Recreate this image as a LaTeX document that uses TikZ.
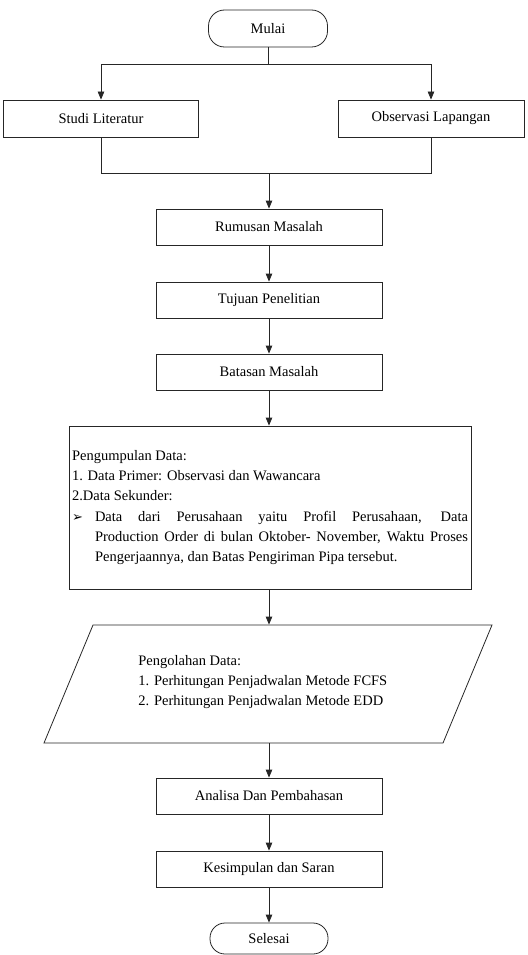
\documentclass[tikz,border=0pt]{standalone}
\usepackage{fontspec}
\setmainfont{Liberation Serif}
\newfontfamily\tnr{Liberation Serif}
\newfontfamily\dejavu{DejaVu Sans}
\usetikzlibrary{arrows.meta}
\begin{document}
\begin{tikzpicture}[x=1pt,y=-1pt,
  line width=0.8pt,
  every node/.style={font=\tnr\fontsize{14.5}{20.3}\selectfont},
  proc/.style={draw=black!85, rectangle, minimum width=226pt, minimum height=36pt, inner sep=0pt},
  term/.style={draw=black!85, rectangle, rounded corners=16pt, minimum width=119pt, minimum height=37pt, inner sep=0pt},
  arr/.style={draw=black!85, -{Triangle[length=8pt,width=6.5pt]}},
  ln/.style={draw=black!85},
]
\useasboundingbox (0,0) rectangle (527,955);

\node[term] (mulai) at (268,28.5) {Mulai};
\node[proc, minimum width=195pt, minimum height=37pt] (studi) at (101,118.5) {Studi Literatur};
\node[proc, minimum width=186pt, minimum height=37pt] (obs) at (431,118.5) {Observasi Lapangan};
\coordinate (split) at (268,64);
\coordinate (join) at (269,173);
\node[proc] (rumusan) at (269,227) {Rumusan Masalah};
\node[proc] (tujuan) at (269,300) {Tujuan Penelitian};
\node[proc] (batasan) at (269,372) {Batasan Masalah};
\node[draw=black!85, rectangle, minimum width=402pt, minimum height=163pt, text width=396pt, inner xsep=3pt, inner ysep=0pt, align=justify] (data) at (270,507.5)
{\noindent Pengumpulan Data:\\1. Data Primer: Observasi dan Wawancara\\2.Data Sekunder:\par
\leftskip=23pt\noindent\llap{\makebox[23pt][l]{\dejavu\fontsize{13}{20.3}\selectfont ➢}}Data dari Perusahaan yaitu Profil Perusahaan, Data\linebreak Production Order di bulan Oktober- November, Waktu Proses\linebreak Pengerjaannya, dan Batas Pengiriman Pipa tersebut.\par};

\draw[ln] (93,625) -- (492,625) -- (443,743) -- (44,743) -- cycle;
\node[minimum width=0pt, minimum height=118pt, inner sep=0pt] (para) at (269,684) {};
\node[anchor=west, align=left, inner sep=0pt] (paratext) at (138,682)
{Pengolahan Data:\\1. Perhitungan Penjadwalan Metode FCFS\\2. Perhitungan Penjadwalan Metode EDD};

\node[proc] (analisa) at (269,796) {Analisa Dan Pembahasan};
\node[proc] (kesimpulan) at (269,869) {Kesimpulan dan Saran};
\node[term, minimum width=118pt, minimum height=31pt, rounded corners=15pt] (selesai) at (269,938.5) {Selesai};

\draw[ln] (mulai.south) -- (split);
\draw[arr] (split) -| (studi.north);
\draw[arr] (split) -| (obs.north);
\draw[ln] (studi.south) |- (join);
\draw[ln] (obs.south) |- (join);
\draw[arr] (join) -- (rumusan.north);
\draw[arr] (rumusan.south) -- (tujuan.north);
\draw[arr] (tujuan.south) -- (batasan.north);
\draw[arr] (batasan.south) -- (batasan.south |- data.north);
\draw[arr] (para.north |- data.south) -- (para.north);
\draw[arr] (para.south) -- (analisa.north);
\draw[arr] (analisa.south) -- (kesimpulan.north);
\draw[arr] (kesimpulan.south) -- (selesai.north);
\end{tikzpicture}
\end{document}
